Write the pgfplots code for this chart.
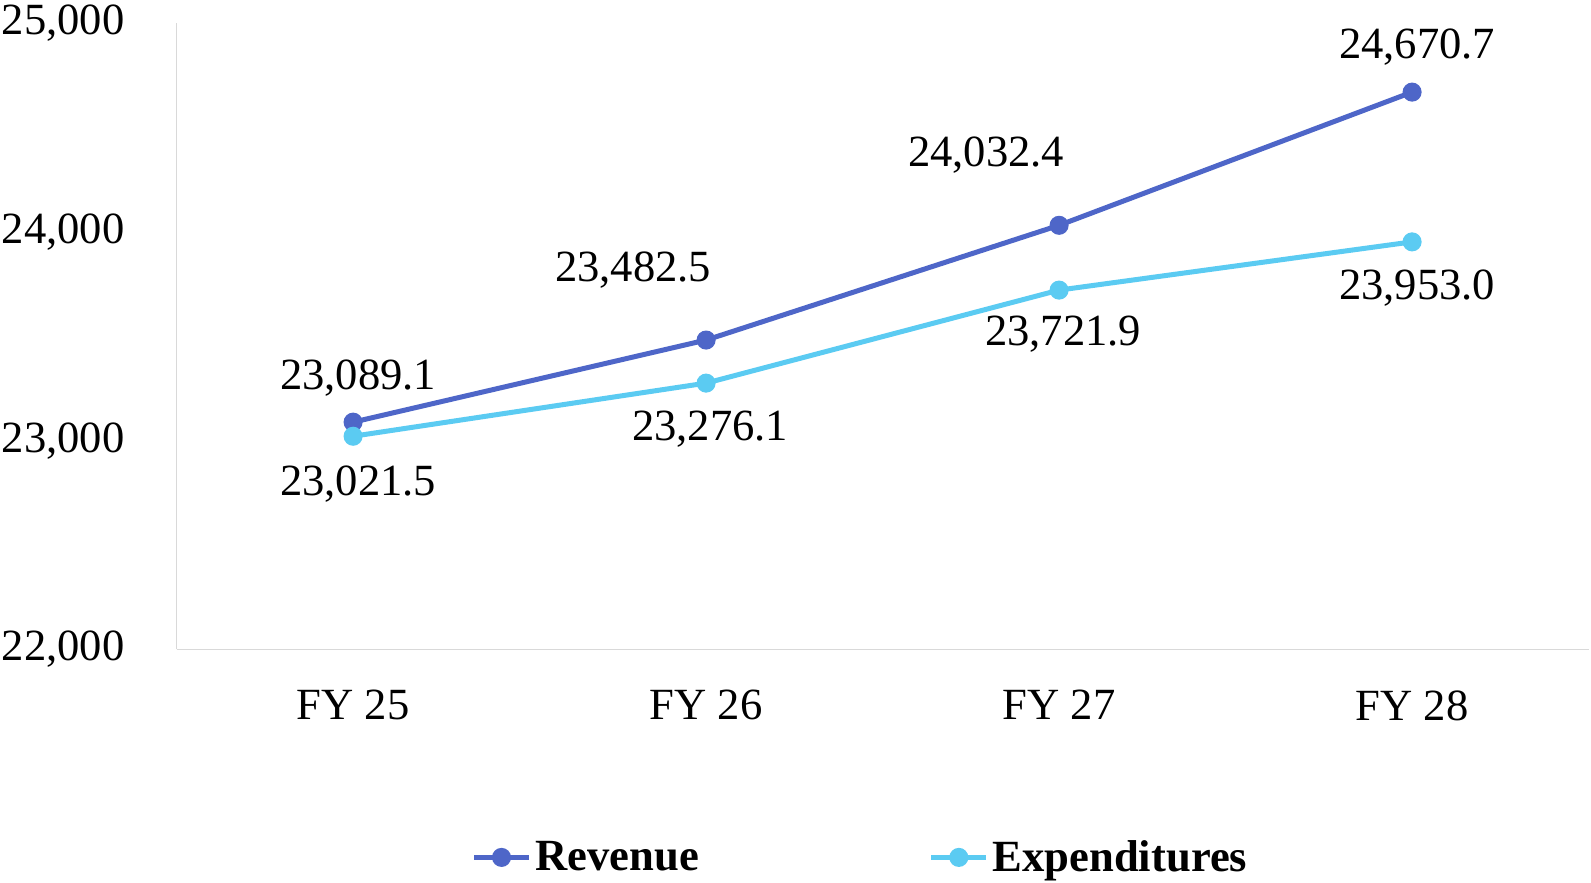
\documentclass[border=0pt]{standalone}
\usepackage{pgfplots}
\pgfplotsset{compat=1.18}
\usepackage{pgfplotstable}
\usepackage{fontspec}
\setmainfont{Liberation Serif}
\definecolor{rev}{HTML}{4E66C8}
\definecolor{exp}{HTML}{5BCBF2}
\definecolor{axgray}{HTML}{D9D9D9}
\pgfplotstableread{
x y dx dy
0 23089.1 2.5 22
1 23482.5 -36.5 35
2 24032.4 -36.5 35
3 24670.7 2.5 22.3
}\revtab
\pgfplotstableread{
x y dx dy
0 23021.5 2.5 -23.8
1 23276.1 2 -22.8
2 23721.9 2 -21.8
3 23953.0 2.5 -23.3
}\exptab
\begin{document}
\begin{tikzpicture}
\useasboundingbox (-88.3pt,-116.7pt) rectangle (707.2pt,324.7pt);
\begin{axis}[
  scale only axis,
  width=706pt, height=313pt,
  xmin=-0.5, xmax=3.5,
  ymin=22000, ymax=25000,
  ytick={22000,23000,24000,25000},
  xtick={0,1,2,3},
  xticklabels={FY 25,FY 26,FY 27,FY 28},
  axis x line*=bottom,
  axis y line*=left,
  axis line style={draw=axgray, line width=0.75pt},
  major tick length=0pt,
  tick style={draw=none},
  /pgf/number format/assume math mode=true,
  /pgf/number format/1000 sep={,},
  scaled y ticks=false,
  ticklabel style={font=\fontsize{22.3}{26}\selectfont, text=black},
  xticklabel style={yshift=-17pt},
  yticklabel style={xshift=-22.5pt},
  clip=false,
  legend columns=2,
  legend style={at={(342.4pt,-104pt)}, anchor=center, draw=none, fill=none,
    font=\fontsize{22.3}{26}\selectfont\bfseries, /tikz/every even column/.append style={column sep=113pt}},
  legend cell align=left,
  legend image code/.code={\draw[#1, mark repeat=2, mark phase=2] plot coordinates {(0pt,0pt) (13.7pt,0pt) (27.4pt,0pt)};},
  nodes near coords={\pgfmathprintnumber[fixed, fixed zerofill, precision=1, 1000 sep={,}, assume math mode=true]{\pgfplotspointmeta}},
  point meta=y,
  visualization depends on={\thisrow{dx} \as \dxv},
  visualization depends on={\thisrow{dy} \as \dyv},
  nodes near coords style={anchor=center, xshift=\dxv pt, yshift=\dyv pt, font=\fontsize{22.3}{26}\selectfont, text=black},
]
\addplot[rev, line width=2.5pt, mark=*, mark size=3.5pt, mark options={solid}] table[x=x, y=y] {\revtab};
\addlegendentry{Revenue}
\addplot[exp, line width=2.5pt, mark=*, mark size=3.5pt, mark options={solid}] table[x=x, y=y] {\exptab};
\addlegendentry{Expenditures}
\end{axis}
\end{tikzpicture}
\end{document}
